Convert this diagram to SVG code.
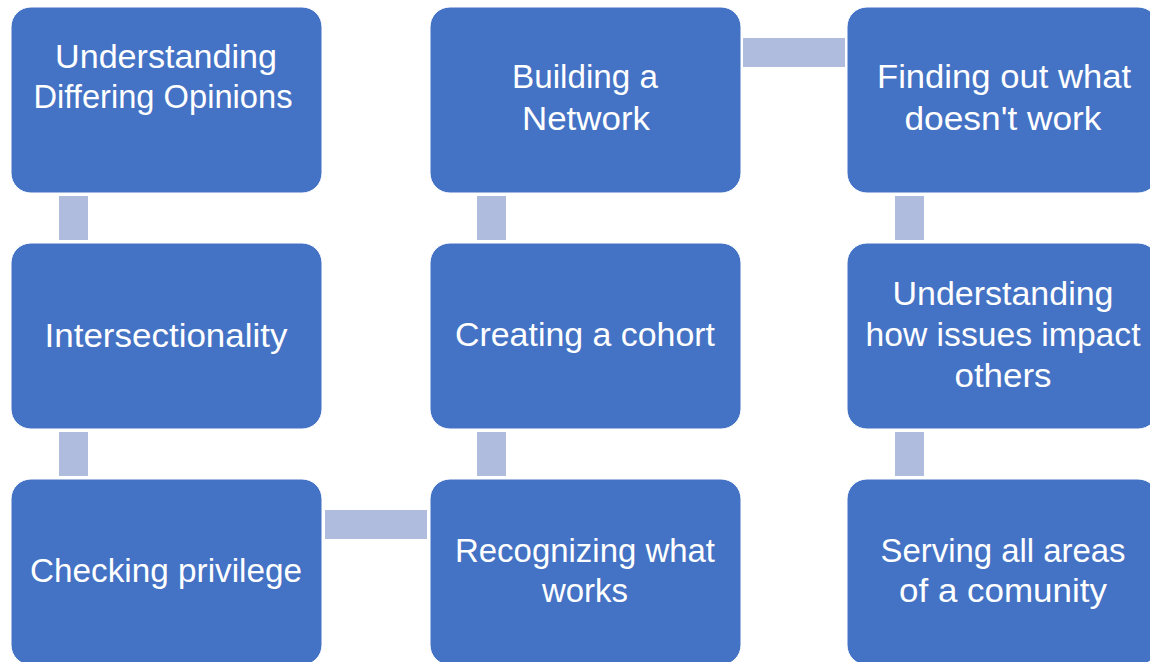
<svg xmlns="http://www.w3.org/2000/svg" width="1150" height="662" viewBox="0 0 1150 662">
<style>
.box{fill:#4472C4;stroke:#ffffff;stroke-width:1}
.con{fill:#B0BCDE}
.t{fill:#ffffff;font-family:"Liberation Sans",Arial,sans-serif;font-size:33px;text-anchor:middle}
</style>
<rect width="1150" height="662" fill="#ffffff"/>
<g id="connectors">
<rect class="con" x="59" y="196" width="29" height="44"/>
<rect class="con" x="59" y="432" width="29" height="44"/>
<rect class="con" x="325" y="510" width="102" height="29"/>
<rect class="con" x="477" y="432" width="29" height="44"/>
<rect class="con" x="477" y="196" width="29" height="44"/>
<rect class="con" x="743" y="38" width="102" height="29"/>
<rect class="con" x="895" y="196" width="29" height="44"/>
<rect class="con" x="895" y="432" width="29" height="44"/>
</g>
<g id="n1">
<rect class="box" x="11" y="7" width="311" height="186" rx="20"/>
<text class="t" x="166" y="68" textLength="222" lengthAdjust="spacingAndGlyphs">Understanding</text>
<text class="t" x="163" y="108" textLength="259" lengthAdjust="spacingAndGlyphs">Differing Opinions</text>
</g>
<g id="n2">
<rect class="box" x="11" y="243" width="311" height="186" rx="20"/>
<text class="t" x="166" y="347" textLength="243" lengthAdjust="spacingAndGlyphs">Intersectionality</text>
</g>
<g id="n3">
<rect class="box" x="11" y="479" width="311" height="186" rx="20"/>
<text class="t" x="166" y="582" textLength="272" lengthAdjust="spacingAndGlyphs">Checking privilege</text>
</g>
<g id="n4">
<rect class="box" x="430" y="479" width="311" height="186" rx="20"/>
<text class="t" x="585" y="562" textLength="260" lengthAdjust="spacingAndGlyphs">Recognizing what</text>
<text class="t" x="585" y="602" textLength="86" lengthAdjust="spacingAndGlyphs">works</text>
</g>
<g id="n5">
<rect class="box" x="430" y="243" width="311" height="186" rx="20"/>
<text class="t" x="585" y="346" textLength="260" lengthAdjust="spacingAndGlyphs">Creating a cohort</text>
</g>
<g id="n6">
<rect class="box" x="430" y="7" width="311" height="186" rx="20"/>
<text class="t" x="585" y="88" textLength="146" lengthAdjust="spacingAndGlyphs">Building a</text>
<text class="t" x="586" y="130" textLength="128" lengthAdjust="spacingAndGlyphs">Network</text>
</g>
<g id="n7">
<rect class="box" x="847" y="7" width="311" height="186" rx="20"/>
<text class="t" x="1004" y="88" textLength="254" lengthAdjust="spacingAndGlyphs">Finding out what</text>
<text class="t" x="1003" y="130" textLength="197" lengthAdjust="spacingAndGlyphs">doesn't work</text>
</g>
<g id="n8">
<rect class="box" x="847" y="243" width="311" height="186" rx="20"/>
<text class="t" x="1003" y="305" textLength="221" lengthAdjust="spacingAndGlyphs">Understanding</text>
<text class="t" x="1003" y="346" textLength="275" lengthAdjust="spacingAndGlyphs">how issues impact</text>
<text class="t" x="1003" y="387" textLength="97" lengthAdjust="spacingAndGlyphs">others</text>
</g>
<g id="n9">
<rect class="box" x="847" y="479" width="311" height="186" rx="20"/>
<text class="t" x="1003" y="562" textLength="245" lengthAdjust="spacingAndGlyphs">Serving all areas</text>
<text class="t" x="1003" y="602" textLength="208" lengthAdjust="spacingAndGlyphs">of a comunity</text>
</g>
</svg>
